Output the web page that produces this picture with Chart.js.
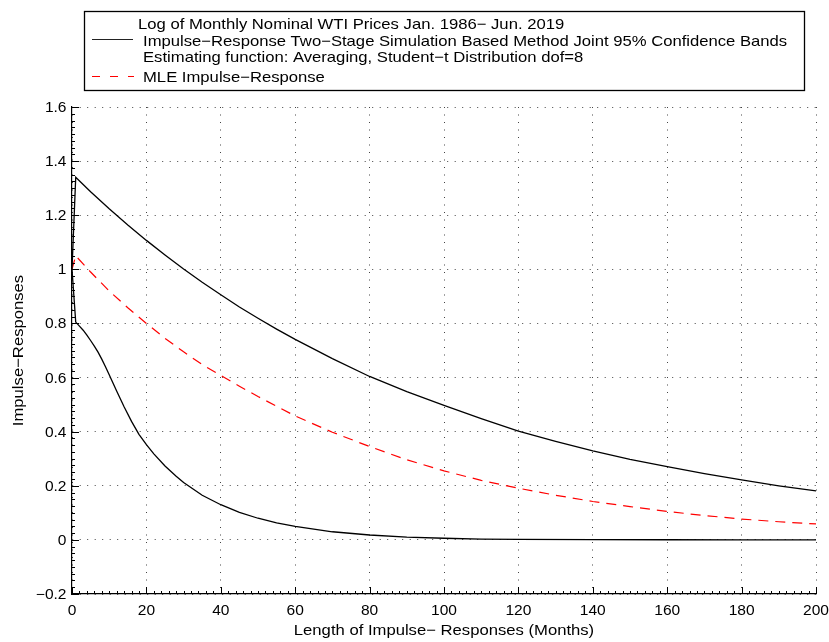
<!DOCTYPE html>
<html><head><meta charset="utf-8">
<script src="https://cdn.jsdelivr.net/npm/chart.js@4/dist/chart.umd.min.js"></script>
<style>html,body{margin:0;padding:0;background:#fff;}#wrap{width:829px;height:642px;position:relative;}</style>
</head><body><div id="wrap"><canvas id="c" width="829" height="642"></canvas></div>
<script>
const upperMonths = [0,1,5,10,15,20,25,30,35,40,45,50,55,60,70,80,90,100,110,120,130,140,150,160,170,180,190,200];
const upperBand   = [1.0,1.34,1.287,1.224,1.164,1.107,1.053,1.001,0.952,0.906,0.861,0.819,0.779,0.741,0.670,0.604,0.548,0.497,0.448,0.402,0.364,0.329,0.298,0.271,0.245,0.222,0.200,0.181];
const lowerMonths = [0,1,2,3,4,5,6,7,8,9,10,12,14,16,18,20,22,25,28,30,35,40,45,50,55,60,70,80,90,100,110,120,140,160,180,200];
const lowerBand   = [1.0,0.805,0.79,0.775,0.757,0.737,0.716,0.694,0.668,0.640,0.610,0.550,0.492,0.438,0.390,0.352,0.318,0.273,0.235,0.212,0.165,0.130,0.102,0.080,0.063,0.050,0.030,0.018,0.010,0.006,0.003,0.002,0.001,0.0005,0.0003,0.0002];
const mleMonths   = [0,1,5,10,15,20,25,30,35,40,45,50,55,60,70,80,90,100,110,120,130,140,150,160,170,180,190,200];
const mleResponse = [1.0,1.05,0.99,0.92,0.858,0.80,0.745,0.695,0.648,0.608,0.568,0.530,0.494,0.458,0.398,0.345,0.296,0.255,0.220,0.191,0.165,0.142,0.123,0.105,0.090,0.077,0.067,0.059];
const xTicks = [0,20,40,60,80,100,120,140,160,180,200];
const xTickLabels = ["0","20","40","60","80","100","120","140","160","180","200"];
const yTicks = [-0.2,0,0.2,0.4,0.6,0.8,1,1.2,1.4,1.6];
const yTickLabels = ["\u22120.2","0","0.2","0.4","0.6","0.8","1","1.2","1.4","1.6"];
const legendLines = [
  "Log of Monthly Nominal WTI Prices Jan. 1986\u2212 Jun. 2019",
  "Impulse\u2212Response Two\u2212Stage Simulation Based Method Joint 95% Confidence Bands",
  "Estimating function: Averaging, Student\u2212t Distribution dof=8",
  "MLE Impulse\u2212Response"
];
const xTitle = "Length of Impulse\u2212 Responses (Months)";
const yTitle = "Impulse\u2212Responses";

const FONT = "'Liberation Sans', Arial, Helvetica, sans-serif";
const SX = 1.11;
const toXY = (xs, ys) => xs.map((x, i) => ({x: x, y: ys[i]}));

function stretchedText(ctx, text, x, y, align, size, rot) {
  ctx.save();
  ctx.translate(x, y);
  if (rot) ctx.rotate(rot);
  ctx.scale(SX, 1);
  ctx.font = size + 'px ' + FONT;
  ctx.fillStyle = '#000';
  ctx.textAlign = align;
  ctx.textBaseline = 'alphabetic';
  ctx.fillText(text, 0, 0);
  ctx.restore();
}

const axisTextPlugin = {
  id: 'axisTextPlugin',
  afterDraw(chart) {
    const ctx = chart.ctx, xs = chart.scales.x, ys = chart.scales.y;
    const a = chart.chartArea;
    xTicks.forEach((v, i) => {
      stretchedText(ctx, xTickLabels[i], xs.getPixelForValue(v), a.bottom + 21, 'center', 14);
    });
    yTicks.forEach((v, i) => {
      stretchedText(ctx, yTickLabels[i], a.left - 5.5, ys.getPixelForValue(v) + 5, 'right', 14);
    });
    stretchedText(ctx, xTitle, (a.left + a.right) / 2, 635, 'center', 15);
    stretchedText(ctx, yTitle, 23.3, (a.top + a.bottom) / 2 + 0, 'center', 15, -Math.PI / 2);
  }
};

const ticksPlugin = {
  id: 'ticksPlugin',
  afterDatasetsDraw(chart) {
    const ctx = chart.ctx, xs = chart.scales.x, ys = chart.scales.y;
    const a = chart.chartArea;
    ctx.save();
    ctx.strokeStyle = '#000';
    ctx.lineWidth = 1;
    ctx.beginPath();
    for (let i = 0; i <= 100; i++) {
      const px = Math.round(xs.getPixelForValue(i * 2)) + 0.5;
      const len = (i % 10 === 0) ? 7 : 3;
      ctx.moveTo(px, a.bottom);
      ctx.lineTo(px, a.bottom - len);
    }
    for (let i = 0; i <= 72; i++) {
      const py = Math.round(ys.getPixelForValue(-0.2 + i * 0.025)) + 0.5;
      const len = (i % 8 === 0) ? 7 : 3;
      ctx.moveTo(a.left, py);
      ctx.lineTo(a.left + len, py);
    }
    ctx.stroke();
    ctx.restore();
  }
};

const legendPlugin = {
  id: 'legendPlugin',
  afterDraw(chart) {
    const ctx = chart.ctx;
    ctx.save();
    ctx.fillStyle = '#fff';
    ctx.fillRect(84.5, 11.5, 720, 79);
    ctx.strokeStyle = '#000';
    ctx.lineWidth = 1.3;
    ctx.strokeRect(84.5, 11.5, 720, 79);
    ctx.lineWidth = 1.2;
    ctx.strokeStyle = '#222';
    ctx.beginPath(); ctx.moveTo(92, 39.5); ctx.lineTo(133, 39.5); ctx.stroke();
    ctx.strokeStyle = '#ff0000';
    ctx.setLineDash([8, 10]);
    ctx.beginPath(); ctx.moveTo(92, 76.5); ctx.lineTo(134, 76.5); ctx.stroke();
    ctx.restore();
    stretchedText(ctx, legendLines[0], 138, 29, 'left', 15);
    stretchedText(ctx, legendLines[1], 143, 45.5, 'left', 15);
    stretchedText(ctx, legendLines[2], 143, 62, 'left', 15);
    stretchedText(ctx, legendLines[3], 143, 82, 'left', 15);
  }
};

new Chart(document.getElementById('c'), {
  type: 'line',
  data: {
    datasets: [
      { label: 'Upper band', data: toXY(upperMonths, upperBand), borderColor: '#000', borderWidth: 1.3, pointRadius: 0, tension: 0, fill: false },
      { label: 'Lower band', data: toXY(lowerMonths, lowerBand), borderColor: '#000', borderWidth: 1.3, pointRadius: 0, tension: 0, fill: false },
      { label: 'MLE', data: toXY(mleMonths, mleResponse), borderColor: '#ff0000', borderWidth: 1.2, borderDash: [10, 7], pointRadius: 0, tension: 0, fill: false }
    ]
  },
  options: {
    responsive: false,
    devicePixelRatio: 1,
    animation: false,
    events: [],
    layout: { padding: { top: 107, right: 13, left: 0, bottom: 0 } },
    plugins: { legend: { display: false }, tooltip: { enabled: false } },
    scales: {
      x: {
        type: 'linear', min: 0, max: 200,
        afterBuildTicks: s => { s.ticks = xTicks.map(v => ({ value: v })); },
        afterFit: s => { s.height = 48; },
        ticks: { display: false },
        grid: { color: '#444', lineWidth: 1, drawTicks: false },
        border: { display: true, color: '#000', width: 1.2, dash: [1, 6.5] },
        title: { display: false }
      },
      y: {
        type: 'linear', min: -0.2, max: 1.6,
        afterBuildTicks: s => { s.ticks = yTicks.map(v => ({ value: v })); },
        afterFit: s => { s.width = 72; },
        ticks: { display: false },
        grid: { color: '#444', lineWidth: 1, drawTicks: false },
        border: { display: true, color: '#000', width: 1.2, dash: [1, 6.5] },
        title: { display: false }
      }
    }
  },
  plugins: [ticksPlugin, legendPlugin, axisTextPlugin]
});
</script>
</body></html>
